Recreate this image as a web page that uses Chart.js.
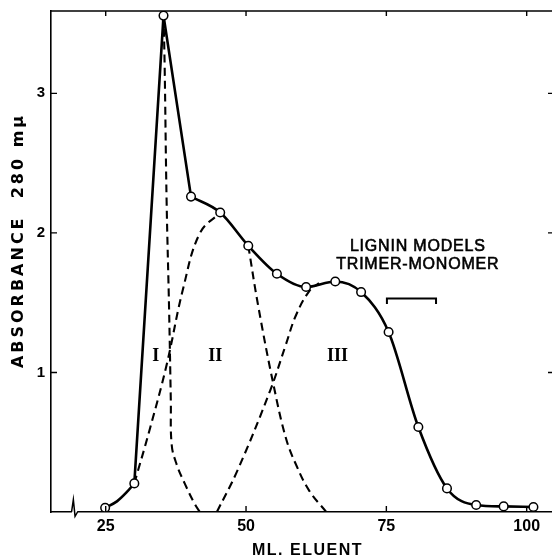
<!DOCTYPE html>
<html>
<head>
<meta charset="utf-8">
<script src="https://cdn.jsdelivr.net/npm/chart.js@4.4.0/dist/chart.umd.min.js"></script>
<style>
  html, body { margin: 0; padding: 0; background: #fff; }
  #wrap { width: 552px; height: 556px; }
</style>
</head>
<body>
<div id="wrap"><canvas id="myChart" width="552" height="556"></canvas></div>
<script>
// measured fractions (ml eluent vs absorbance at 280 mμ)
const eluentMl = [24.9, 30.1, 35.3, 40.2, 45.4, 50.4, 55.5, 60.7, 65.9, 70.5, 75.4, 80.7, 85.8, 91.0, 95.9, 101.2];
const absorbance = [0.03, 0.205, 3.557, 2.26, 2.146, 1.908, 1.707, 1.612, 1.652, 1.576, 1.29, 0.609, 0.169, 0.05, 0.04, 0.036];

// curved foot of the solid line between the first two fractions (traced)
const footX = [24.9, 27.0, 28.7, 30.1];
const footY = [0.03, 0.076, 0.14, 0.205];

// dashed component peaks
const peak1X = [35.3, 35.5, 35.85, 36.3, 36.6, 36.76, 37.65, 39.13, 40.91, 41.8];
const peak1Y = [3.557, 3.2, 2.23, 1.44, 0.8, 0.48, 0.34, 0.2, 0.054, 0];
// peak II rises from fraction 30 to fraction 45, runs under the solid line, leaves it at fraction 50
const peak2RiseX = [30.1, 32.9, 35.87, 38.83, 41.8, 45.4];
const peak2RiseY = [0.205, 0.6, 1.057, 1.607, 2.0, 2.146];
const peak2FallX = [50.4, 52.2, 54.9, 57.1, 58.9, 61.3, 64.3];
const peak2FallY = [1.908, 1.47, 0.91, 0.53, 0.34, 0.15, 0];
const peak3X = [44.8, 48.5, 54.3, 57.1, 58.9, 61.3, 63.0];
const peak3Y = [0, 0.3, 0.87, 1.2, 1.41, 1.585, 1.64];

// bracket for the lignin model trimer-monomer range
const bracketX = [75.1, 75.1, 83.85, 83.85];
const bracketY = [1.49, 1.53, 1.53, 1.49];

const xTicks = [25, 50, 75, 100];
const yTicks = [1, 2, 3];

const peakNames = ['I', 'II', 'III'];
const peakNameX = [33.9, 44.5, 66.3];
const peakNameY = 1.117;
const noteLines = ['LIGNIN MODELS', 'TRIMER-MONOMER'];
const noteX = 80.6;
const noteY = [1.9, 1.775];
const breakAt = 19.45;

const xTitle = 'ML. ELUENT';
const yTitle = 'ABSORBANCE  280 mμ';

function pts(xs, ys) {
  return xs.map((x, i) => ({ x: x, y: ys[i] }));
}

const solid = { borderColor: '#000', borderWidth: 2.6, pointRadius: 0, fill: false };
const dashed = { borderColor: '#000', borderWidth: 2.1, borderDash: [8, 5], pointRadius: 0, fill: false, tension: 0.4 };

const frame = {
  id: 'frame',
  afterDraw(chart) {
    const ctx = chart.ctx;
    const a = chart.chartArea;
    const x = chart.scales.x;
    const y = chart.scales.y;
    ctx.save();
    ctx.strokeStyle = '#000';
    ctx.fillStyle = '#000';
    ctx.lineWidth = 1.6;

    // top line
    ctx.beginPath();
    ctx.moveTo(a.left, a.top);
    ctx.lineTo(a.right, a.top);
    ctx.stroke();

    // inward ticks on all sides
    ctx.lineWidth = 1.4;
    ctx.beginPath();
    xTicks.forEach((v) => {
      const px = x.getPixelForValue(v);
      ctx.moveTo(px, a.bottom); ctx.lineTo(px, a.bottom - 6);
      ctx.moveTo(px, a.top); ctx.lineTo(px, a.top + 5);
    });
    yTicks.forEach((v) => {
      const py = y.getPixelForValue(v);
      ctx.moveTo(a.left, py); ctx.lineTo(a.left + 6, py);
      ctx.moveTo(a.right, py); ctx.lineTo(a.right - 4, py);
    });
    ctx.stroke();

    // axis break
    const bx = x.getPixelForValue(breakAt);
    const by = a.bottom;
    ctx.fillStyle = '#fff';
    ctx.fillRect(bx - 2.6, by - 2, 5.2, 4);
    ctx.lineWidth = 1.5;
    ctx.beginPath();
    ctx.moveTo(bx - 3, by);
    ctx.lineTo(bx - 1.2, by - 12.3);
    ctx.lineTo(bx + 0.5, by + 4.4);
    ctx.lineTo(bx + 3, by);
    ctx.stroke();

    // peak names
    ctx.fillStyle = '#000';
    ctx.textAlign = 'center';
    ctx.textBaseline = 'middle';
    ctx.font = 'bold 18px "Liberation Serif", serif';
    peakNames.forEach((t, i) => {
      ctx.fillText(t, x.getPixelForValue(peakNameX[i]), y.getPixelForValue(peakNameY));
    });

    // note
    ctx.font = '16px "Liberation Sans", Arial, sans-serif';
    ctx.letterSpacing = '0.8px';
    ctx.lineWidth = 0.6;
    noteLines.forEach((t, i) => {
      const nx = x.getPixelForValue(noteX);
      const ny = y.getPixelForValue(noteY[i]);
      ctx.fillText(t, nx, ny);
      ctx.strokeText(t, nx, ny);
    });

    // axis titles
    ctx.font = 'bold 16px "Liberation Sans", Arial, sans-serif';
    ctx.letterSpacing = '1.5px';
    ctx.fillText(xTitle, (a.left + a.right) / 2 + 6, a.bottom + 39);
    ctx.save();
    ctx.translate(19, (a.top + a.bottom) / 2 - 21);
    ctx.rotate(-Math.PI / 2);
    ctx.font = 'bold 16px "DejaVu Sans", sans-serif';
    ctx.letterSpacing = '3px';
    ctx.fillText(yTitle, 0, 0);
    ctx.restore();
    ctx.letterSpacing = '0px';
    ctx.restore();
  },
};

const ctx = document.getElementById('myChart').getContext('2d');

const myChart = new Chart(ctx, {
  type: 'line',
  data: {
    datasets: [
      {
        label: 'fractions',
        data: pts(eluentMl, absorbance),
        showLine: false,
        pointRadius: 4.3,
        pointBorderWidth: 1.5,
        pointBackgroundColor: '#fff',
        pointBorderColor: '#000',
      },
      Object.assign({ label: 'rise', data: pts(eluentMl.slice(1, 4), absorbance.slice(1, 4)), tension: 0 }, solid),
      Object.assign({ label: 'tail', data: pts(eluentMl.slice(3), absorbance.slice(3)), cubicInterpolationMode: 'monotone' }, solid),
      Object.assign({ label: 'foot', data: pts(footX, footY), cubicInterpolationMode: 'monotone' }, solid),
      Object.assign({ label: 'I', data: pts(peak1X, peak1Y) }, dashed),
      Object.assign({ label: 'II rise', data: pts(peak2RiseX, peak2RiseY) }, dashed),
      Object.assign({ label: 'II fall', data: pts(peak2FallX, peak2FallY) }, dashed),
      Object.assign({ label: 'III', data: pts(peak3X, peak3Y) }, dashed),
      Object.assign({ label: 'bracket', data: pts(bracketX, bracketY), tension: 0 }, solid, { borderWidth: 2 }),
    ],
  },
  options: {
    responsive: false,
    animation: false,
    devicePixelRatio: 1,
    layout: { autoPadding: false, padding: { top: 11, right: 0, left: 0, bottom: 0 } },
    plugins: {
      legend: { display: false },
      tooltip: { enabled: false },
    },
    scales: {
      x: {
        type: 'linear',
        min: 15.255,
        max: 104.51,
        grid: { display: false, drawTicks: false },
        border: { display: true, color: '#000', width: 1.6 },
        ticks: {
          color: '#000',
          padding: 5,
          font: { family: '"Liberation Sans", Arial, sans-serif', size: 16, weight: 'bold' },
        },
        afterBuildTicks: (scale) => {
          scale.ticks = xTicks.map((v) => ({ value: v }));
        },
        afterFit: (scale) => {
          scale.height = 44;
          scale.paddingLeft = 0;
          scale.paddingRight = 0;
        },
      },
      y: {
        type: 'linear',
        min: 0,
        max: 3.59,
        grid: { display: false, drawTicks: false },
        border: { display: true, color: '#000', width: 1.6 },
        ticks: {
          color: '#000',
          padding: 6,
          font: { family: '"Liberation Sans", Arial, sans-serif', size: 15, weight: 'bold' },
        },
        afterBuildTicks: (scale) => {
          scale.ticks = yTicks.map((v) => ({ value: v }));
        },
        afterFit: (scale) => {
          scale.width = 51;
          scale.paddingTop = 0;
          scale.paddingBottom = 0;
        },
      },
    },
  },
  plugins: [frame],
});
</script>
</body>
</html>
